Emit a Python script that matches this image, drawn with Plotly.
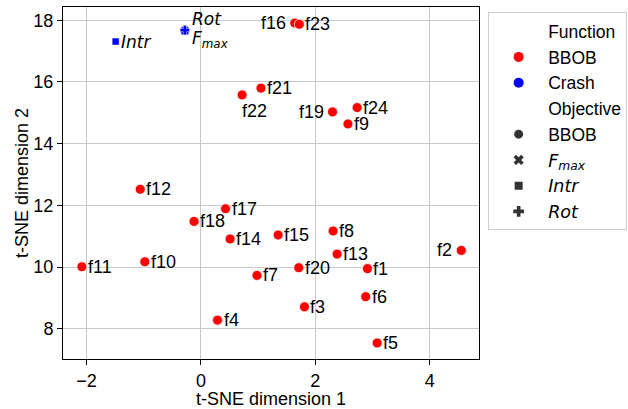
import plotly.graph_objects as go

# BBOB functions
bbob_names = ["f1", "f2", "f3", "f4", "f5", "f6", "f7", "f8", "f9", "f10", "f11", "f12",
              "f13", "f14", "f15", "f16", "f17", "f18", "f19", "f20", "f21", "f22", "f23", "f24"]
bbob_x = [2.91, 4.55, 1.81, 0.29, 3.08, 2.88, 0.98, 2.31, 2.57, -0.98, -2.08, -1.06,
          2.38, 0.51, 1.35, 1.64, 0.43, -0.12, 2.30, 1.71, 1.05, 0.72, 1.72, 2.73]
bbob_y = [9.95, 10.54, 8.71, 8.28, 7.54, 9.04, 9.73, 11.17, 14.64, 10.17, 10.01, 12.52,
          10.42, 10.91, 11.04, 17.91, 11.89, 11.48, 15.03, 9.98, 15.80, 15.58, 17.87, 15.17]
# label side: r = right, l = left, b = below
bbob_side = ["r", "l", "r", "r", "r", "r", "r", "r", "r", "r", "r", "r",
             "r", "r", "r", "l", "r", "r", "l", "r", "r", "b", "r", "r"]

# Crash objectives
crash_names = ["Fmax", "Intr", "Rot"]
crash_labels = ["<i>F</i><sub><i>max</i></sub>", "<i>Intr</i>", "<i>Rot</i>"]
crash_x = [-0.28, -1.49, -0.28]
crash_y = [17.66, 17.31, 17.68]
crash_symbols = ["x", "square", "cross"]

RED = "#ff0000"
BLUE = "#0000ff"
GRAY = "#333333"
FONT = "Liberation Sans, Arial, sans-serif"
MATHFONT = "DejaVu Sans"
FS = 18

fig = go.Figure()

fig.add_trace(go.Scatter(
    x=bbob_x, y=bbob_y, mode="markers", showlegend=False,
    marker=dict(color=RED, size=10, symbol="circle", line=dict(color="white", width=0.8)),
))

for nm, lx, ly, sym in zip(crash_names, crash_x, crash_y, crash_symbols):
    fig.add_trace(go.Scatter(
        x=[lx], y=[ly], mode="markers", showlegend=False,
        marker=dict(color=BLUE, size=7 if sym == "square" else 8, symbol=sym,
                    line=dict(color="white", width=0.5)),
    ))

# Legend entries
def leg(name, color=None, symbol="circle", size=10, visible=True):
    fig.add_trace(go.Scatter(
        x=[None], y=[None], mode="markers", name=name, showlegend=True,
        marker=dict(color=color if color else "rgba(0,0,0,0)", size=size, symbol=symbol,
                    line=dict(width=0), opacity=1 if visible else 0),
    ))

def math(s):
    return '<span style="font-family:DejaVu Sans">' + s + '</span>'

leg("Function", visible=False)
leg("BBOB", RED)
leg("Crash", BLUE)
leg("Objective", visible=False)
leg("BBOB", GRAY, "circle", 9)
leg(math(crash_labels[0]), GRAY, "x", 9)
leg(math(crash_labels[1]), GRAY, "square", 8)
leg(math(crash_labels[2]), GRAY, "cross", 9)

annotations = []
for nm, lx, ly, side in zip(bbob_names, bbob_x, bbob_y, bbob_side):
    if side == "r":
        annotations.append(dict(x=lx, y=ly, text=nm, xanchor="left", yanchor="middle",
                                xshift=4, showarrow=False))
    elif side == "l":
        annotations.append(dict(x=lx, y=ly, text=nm, xanchor="right", yanchor="middle",
                                xshift=-7, showarrow=False))
    else:
        annotations.append(dict(x=lx, y=ly, text=nm, xanchor="left", yanchor="top",
                                xshift=-2, yshift=-4, showarrow=False))

# crash labels
annotations.append(dict(x=crash_x[2], y=crash_y[2], text=crash_labels[2], xanchor="left",
                        yanchor="middle", xshift=5, yshift=11, showarrow=False,
                        font=dict(family=MATHFONT, size=17)))
annotations.append(dict(x=crash_x[0], y=crash_y[0], text=crash_labels[0], xanchor="left",
                        yanchor="middle", xshift=5, yshift=-9, showarrow=False,
                        font=dict(family=MATHFONT, size=17)))
annotations.append(dict(x=crash_x[1], y=crash_y[1], text=crash_labels[1], xanchor="left",
                        yanchor="middle", xshift=3, showarrow=False,
                        font=dict(family=MATHFONT, size=17)))

axis_common = dict(
    showline=True, linecolor="black", linewidth=1, mirror=True,
    ticks="outside", ticklen=5, tickcolor="black", tickwidth=1,
    showgrid=True, gridcolor="#c8c8c8", gridwidth=1, zeroline=False,
    tickfont=dict(size=FS, color="black", family=FONT),
)

fig.update_layout(
    width=628, height=409,
    margin=dict(l=63, r=149, t=7, b=50, autoexpand=False),
    paper_bgcolor="white", plot_bgcolor="white",
    font=dict(family=FONT, size=FS, color="black"),
    xaxis=dict(range=[-2.41, 4.86], tickvals=[-2, 0, 2, 4],
               title=dict(text="t-SNE dimension 1", standoff=2, font=dict(size=FS)),
               **axis_common),
    yaxis=dict(range=[7.02, 18.43], tickvals=[8, 10, 12, 14, 16, 18],
               title=dict(text="t-SNE dimension 2", standoff=0, font=dict(size=FS)),
               **axis_common),
    legend=dict(x=1.022, y=0.985, xanchor="left", yanchor="top",
                bgcolor="white", bordercolor="#cccccc", borderwidth=1,
                font=dict(size=17.5, family=FONT, color="black"),
                itemwidth=49, tracegroupgap=0),
    annotations=annotations,
    showlegend=True,
)

fig.write_html("out.html", config={"displayModeBar": False},
               post_script="document.body.style.margin='0';document.body.style.overflow='hidden';")
